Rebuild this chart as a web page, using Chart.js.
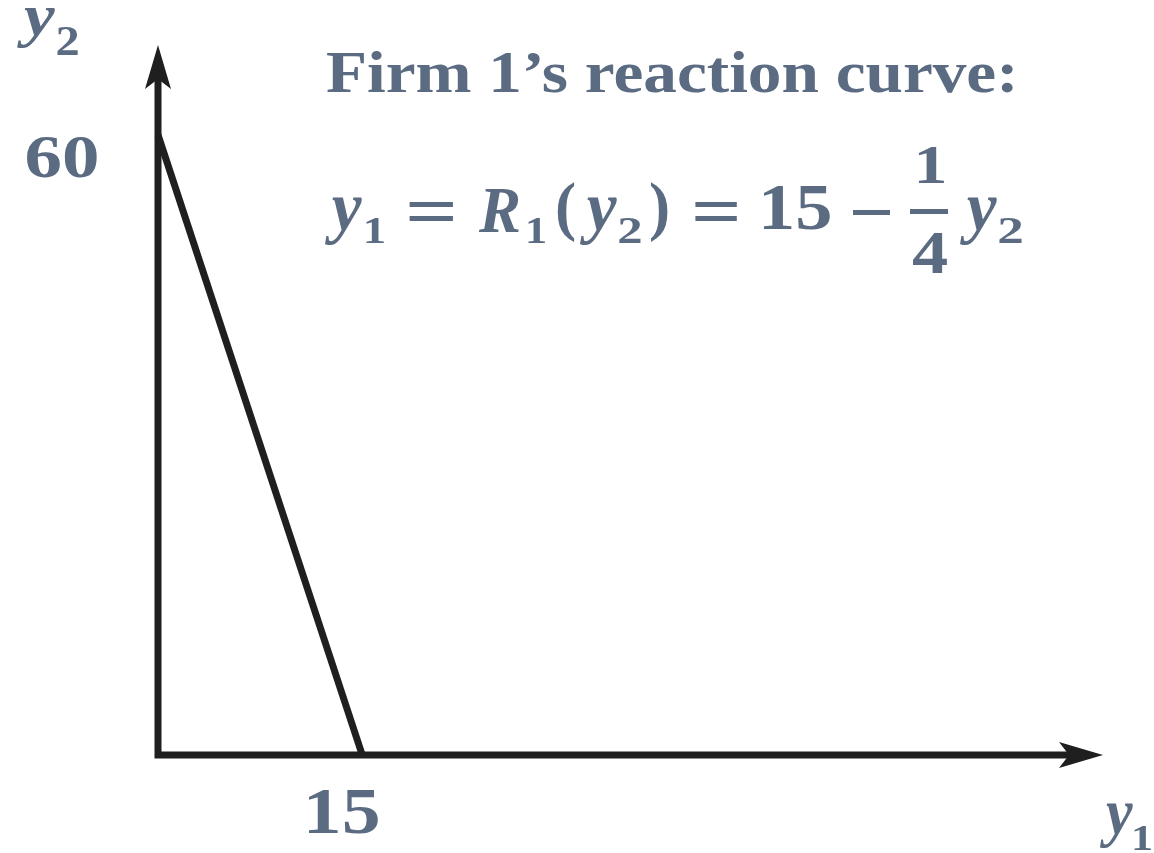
<!DOCTYPE html>
<html>
<head>
<meta charset="utf-8">
<script src="https://cdn.jsdelivr.net/npm/chart.js@4/dist/chart.umd.min.js"></script>
<style>
  html, body { margin: 0; padding: 0; background: #ffffff; }
  #wrap { width: 1154px; height: 853px; }
</style>
</head>
<body>
<div id="wrap"><canvas id="c" width="1154" height="853"></canvas></div>
<script>
// ---- data ----
const y1Values = [0, 15];        // firm 1 output (x axis)
const y2Values = [60, 0];        // firm 2 output (y axis)
const xTickValues = [15];
const xTickLabels = ["15"];
const yTickValues = [60];
const yTickLabels = ["60"];
const xAxisMax = 69.4;
const yAxisMax = 68.7;
const titleText = "Firm 1\u2019s reaction curve:";

const TEXT = '#5a6b82';
const INK = '#1f1f1f';
const SERIF = "'Liberation Serif', 'DejaVu Serif', serif";

function fitText(ctx, text, font, x0, y0, x1, y1) {
  ctx.font = font;
  const m = ctx.measureText(text);
  const w = m.actualBoundingBoxLeft + m.actualBoundingBoxRight;
  const h = m.actualBoundingBoxAscent + m.actualBoundingBoxDescent;
  ctx.save();
  ctx.translate(x0, y0);
  ctx.scale((x1 - x0) / w, (y1 - y0) / h);
  ctx.textAlign = 'left';
  ctx.textBaseline = 'alphabetic';
  ctx.fillText(text, m.actualBoundingBoxLeft, m.actualBoundingBoxAscent);
  ctx.restore();
}

const axesPlugin = {
  id: 'axesArrows',
  beforeDatasetsDraw(chart) {
    const ctx = chart.ctx;
    const xs = chart.scales.x, ys = chart.scales.y;
    const ox = xs.getPixelForValue(0), oy = ys.getPixelForValue(0);
    const xe = xs.getPixelForValue(xAxisMax), ye = ys.getPixelForValue(yAxisMax);
    ctx.save();
    ctx.strokeStyle = INK;
    ctx.fillStyle = INK;
    ctx.lineWidth = 7;
    ctx.lineCap = 'butt';
    ctx.beginPath();
    ctx.moveTo(ox, ye + 30);
    ctx.lineTo(ox, oy + 3.5);
    ctx.moveTo(ox - 3.5, oy);
    ctx.lineTo(xe - 30, oy);
    ctx.stroke();
    // vertical arrow head
    ctx.beginPath();
    ctx.moveTo(ox, ye);
    ctx.lineTo(ox + 13, ye + 44);
    ctx.lineTo(ox, ye + 34);
    ctx.lineTo(ox - 13, ye + 44);
    ctx.closePath();
    ctx.fill();
    // horizontal arrow head
    ctx.beginPath();
    ctx.moveTo(xe, oy);
    ctx.lineTo(xe - 44, oy - 13);
    ctx.lineTo(xe - 34, oy);
    ctx.lineTo(xe - 44, oy + 13);
    ctx.closePath();
    ctx.fill();
    ctx.restore();
  },
  afterDraw(chart) {
    const ctx = chart.ctx;
    ctx.save();
    ctx.fillStyle = TEXT;
    const B = "bold 60px " + SERIF;
    const BI = "italic bold 60px " + SERIF;
    // title
    fitText(ctx, titleText, B, 327, 52, 1013, 93);
    // tick labels
    fitText(ctx, yTickLabels[0], B, 27, 137, 97, 178);
    fitText(ctx, xTickLabels[0], B, 308, 790, 378, 834);
    // axis names
    fitText(ctx, "y", BI, 17, 8, 55, 48);
    fitText(ctx, "2", B, 57, 27, 78, 55);
    fitText(ctx, "y", BI, 1100, 805, 1133, 848);
    fitText(ctx, "1", B, 1134, 827, 1151, 850);
    // equation
    fitText(ctx, "y", BI, 325, 198, 362, 245);
    fitText(ctx, "1", B, 366, 218, 384, 243);
    fitText(ctx, "=", B, 408, 203, 453, 222);
    fitText(ctx, "R", BI, 478, 190, 519, 232);
    fitText(ctx, "1", B, 528, 218, 545, 243);
    fitText(ctx, "(", B, 557, 182, 575, 242);
    fitText(ctx, "y", BI, 580, 198, 617, 245);
    fitText(ctx, "2", B, 619, 219, 641, 243);
    fitText(ctx, ")", B, 650, 182, 668, 242);
    fitText(ctx, "=", B, 694, 203, 737, 222);
    fitText(ctx, "15", B, 763, 187, 830, 230);
    ctx.fillRect(853, 210, 37, 5);      // minus sign
    fitText(ctx, "1", B, 918, 147, 944, 183);
    ctx.fillRect(910, 209, 38, 5);      // fraction bar
    fitText(ctx, "4", B, 912, 233, 947, 273);
    fitText(ctx, "y", BI, 960, 199, 997, 245);
    fitText(ctx, "2", B, 999, 219, 1022, 243);
    ctx.restore();
  }
};

const points = y1Values.map((v, i) => ({ x: v, y: y2Values[i] }));

new Chart(document.getElementById('c'), {
  type: 'scatter',
  data: {
    datasets: [{
      data: points,
      showLine: true,
      borderColor: INK,
      borderWidth: 7,
      pointRadius: 0,
      fill: false,
      clip: false
    }]
  },
  options: {
    responsive: false,
    animation: false,
    events: [],
    layout: { padding: { left: 158, right: 51, top: 45, bottom: 98 } },
    plugins: { legend: { display: false }, tooltip: { enabled: false }, title: { display: false } },
    scales: {
      x: { type: 'linear', min: 0, max: xAxisMax, display: false },
      y: { type: 'linear', min: 0, max: yAxisMax, display: false }
    }
  },
  plugins: [axesPlugin]
});
</script>
</body>
</html>
